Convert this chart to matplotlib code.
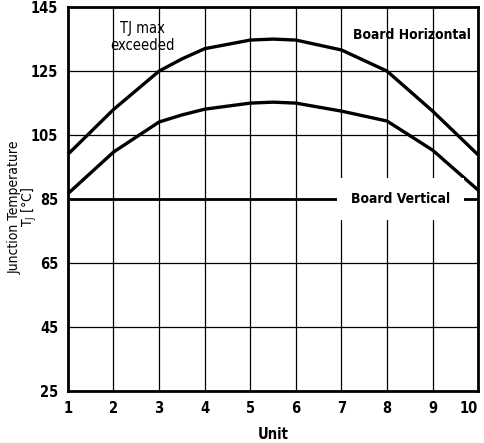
import numpy as np
import matplotlib
matplotlib.use("Agg")
import matplotlib.pyplot as plt

plt.rcParams['font.family'] = ['DejaVu Sans']
plt.rcParams['font.stretch'] = 'condensed'

# valores
unidades = [1, 2, 3, 3.5, 4, 5, 5.5, 6, 7, 8, 9, 10]
board_horizontal = [99, 113, 125, 128.8, 132, 134.7, 135, 134.7, 131.6, 125, 112.5, 98.8]
board_vertical_curva = [86.7, 99.7, 109.1, 111.3, 113.1, 115, 115.3, 115, 112.5, 109.4, 100.3, 87.8]
board_vertical = 85
x_ticks = list(range(1, 11))
y_ticks = [25, 45, 65, 85, 105, 125, 145]

fig = plt.figure(figsize=(4.85, 4.43), dpi=100)
ax = fig.add_axes([0.140, 0.117, 0.846, 0.867])

ax.set_xlim(1, 10)
ax.set_ylim(25, 145)
ax.set_xticks(x_ticks)
ax.set_yticks(y_ticks)
ax.grid(True, color='black', linewidth=0.9)
ax.set_axisbelow(True)
for s in ax.spines.values():
    s.set_linewidth(2.0)
ax.tick_params(length=0, labelsize=10.5, pad=7)
for lbl in ax.get_xticklabels() + ax.get_yticklabels():
    lbl.set_fontweight('bold')
    lbl.set_fontstretch('condensed')
ax.get_xticklabels()[-1].set_horizontalalignment('right')

ax.plot(unidades, board_horizontal, color='black', linewidth=2.4, solid_capstyle='butt', clip_on=False)
ax.plot(unidades, board_vertical_curva, color='black', linewidth=2.4, solid_capstyle='butt', clip_on=False)
ax.axhline(board_vertical, color='black', linewidth=2.0)

ax.text(2.63, 135.6, 'TJ max\nexceeded', ha='center', va='center', fontsize=10.5,
        linespacing=1.15, fontstretch='condensed')
ax.text(8.54, 136.2, 'Board Horizontal', ha='center', va='center', fontsize=10,
        fontweight='bold', fontstretch='condensed')
ax.text(8.3, 85, 'Board Vertical', ha='center', va='center', fontsize=10,
        fontweight='bold', fontstretch='condensed',
        bbox=dict(facecolor='white', edgecolor='none', pad=10))

ax.set_xlabel('Unit', fontsize=10.5, fontweight='bold', labelpad=8, fontstretch='condensed')
ax.set_ylabel('Junction Temperature\nT$_\\mathregular{J}$ [°C]', fontsize=10,
              linespacing=0.9, fontstretch='condensed')
ax.yaxis.set_label_coords(-0.07, 0.48)

fig.savefig('out.png', dpi=100)
